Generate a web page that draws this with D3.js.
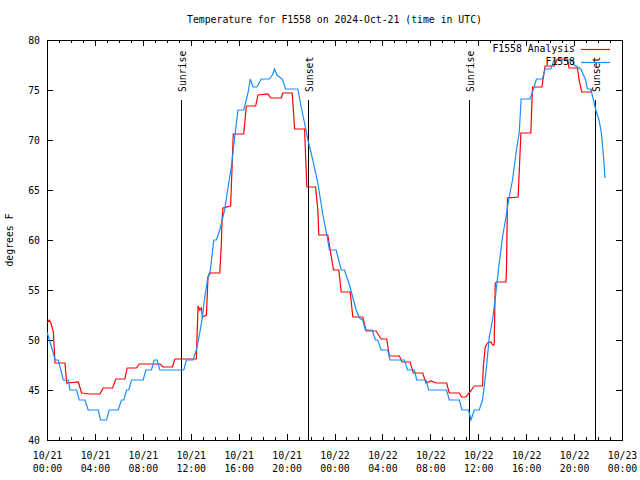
<!DOCTYPE html>
<html>
<head>
<meta charset="utf-8">
<script src="https://cdn.jsdelivr.net/npm/d3@7"></script>
<style>
  html, body { margin: 0; padding: 0; background: #fff; overflow: hidden; }
  svg { display: block; }
  text { font-family: "DejaVu Sans Mono", "Liberation Mono", monospace; font-size: 9.8px; fill: #000; }
</style>
</head>
<body>
<svg id="chart" width="640" height="480"></svg>
<script>
// ---------------- data ----------------
const chartTitle = "Temperature for F1558 on 2024-Oct-21 (time in UTC)";
const yLabel = "degrees F";
const seriesNames = ["F1558 Analysis", "F1558"];
const yTicks = [40, 45, 50, 55, 60, 65, 70, 75, 80];

// hours after 2024-10-21 00:00 UTC
const analysisHours = [0,0.19,0.33,0.53,0.67,1.5,1.64,2.61,2.89,3.58,4.42,4.69,5.47,5.75,6.5,6.69,7.47,7.69,9.42,9.69,10.47,10.67,12.47,12.53,12.61,12.75,12.89,12.97,13.31,13.44,13.64,14.42,14.47,14.56,14.61,14.69,15.33,15.55,16.42,16.64,17.42,17.61,18.44,18.67,19.56,19.69,20.47,20.67,21.5,21.69,22.42,22.61,22.69,23.44,23.64,23.92,24.36,24.56,25.31,25.53,26.36,26.64,27.47,27.89,28.36,28.58,29.42,29.64,30.31,30.58,31.36,31.64,32.06,32.47,33.36,33.58,34.42,34.61,34.97,35.25,35.67,36.36,36.42,36.58,36.78,37.06,37.19,37.33,37.42,37.53,38.31,38.36,38.44,39.33,39.56,40.39,40.53,41.31,41.58,42.33,42.61,43.44,43.58,44.28,44.42,44.64,45.39,45.53];
const analysisTemps = [51.7,52,51.7,50.8,47.7,47.7,45.7,45.8,44.7,44.6,44.6,45.2,45.2,46.1,46.1,47.2,47.2,47.6,47.6,47.3,47.3,48.1,48.1,50.5,53.4,53,53.2,52.3,52.5,56.3,56.7,56.7,57.7,59.8,62,63.2,63.4,70.6,70.6,73.4,73.4,74.5,74.6,74.2,74.2,74.7,74.7,71.1,71.1,65.3,65.3,63,60.5,60.5,59,57,57,54.8,54.8,52.3,52.3,50.9,50.9,50.1,50.1,48.4,48.4,47.8,47.8,46.7,46.7,45.7,45.9,45.7,45.7,44.7,44.7,44.3,44.3,44.7,45.4,45.4,47.3,49.3,49.7,49.8,49.5,49.5,55.7,55.8,55.8,57.2,64.2,64.3,70.7,70.7,75.3,75.3,77.4,77.4,78.1,78.1,77.2,77.2,76,74.8,74.8,75.1];

const obsHours = [0,0.25,0.53,0.67,0.94,1.36,1.78,1.92,2.47,2.69,3.17,3.44,4.28,4.47,4.97,5.19,5.94,6.22,6.42,6.64,6.83,7.06,8.03,8.25,8.72,8.94,9.19,9.42,11.42,11.64,12.19,12.47,12.75,12.97,13.17,13.44,13.64,13.92,14.14,14.42,14.83,15.08,15.39,15.67,15.94,16.42,16.78,16.97,17.19,17.52,17.89,18.58,18.81,19.0,19.19,19.64,19.92,20.94,21.22,21.5,21.78,22.19,22.61,23.03,23.31,23.58,24.14,24.56,24.83,25.25,25.81,26.08,26.36,26.58,27.14,27.42,27.61,27.89,28.44,28.64,29.83,30.11,30.67,30.86,31.64,31.86,33.36,33.58,34.42,34.64,35.19,35.39,35.67,36.08,36.36,36.69,36.92,37.19,37.47,37.75,38.03,38.31,38.58,38.86,39.19,39.42,39.58,40.31,40.53,40.86,41.36,41.58,42.06,42.33,43.86,44.0,44.56,44.97,45.11,45.39,45.58,45.81,46.08,46.28,46.5,46.58];
const obsTemps = [50.8,49.8,48.7,48,48,46,46,45,45,44,44,43,43,42,42,43,43,44,44,45,45,46,46,47,47,48,48,47,47,48,48,49,50.7,52.3,54.3,56.3,57,60,60,61,63,65,67.3,70.3,73,73,74.7,76.1,75.3,75.3,76.1,76.1,76.5,77.1,76.5,76.1,75.1,75.1,73.3,71.7,70,68,65.7,62.5,60.8,59,59,57,57,55.5,53,52.2,52,51,51,50,50,49,49,48,48,47,47,46,46,45,45,44,44,43,43,42,43,43,44,47.3,50.3,52,54.7,57.7,60.3,62.3,64.3,66,69,70.7,74.1,74.1,74.8,76.1,76.1,77.1,77.1,78,78,77.5,77.1,76,75.1,75.1,74.2,73,72,70.7,67.7,66.2];

const eventNames = ["Sunrise", "Sunset", "Sunrise", "Sunset"];
const eventHours = [11.22, 21.78, 35.25, 45.71];

// ---------------- drawing ----------------
const startTime = Date.UTC(2024, 9, 21, 0, 0);
const endTime = Date.UTC(2024, 9, 23, 0, 0);
const toDate = h => new Date(startTime + h * 3600000);

const L = 47, R = 622, T = 40, B = 440;
const svg = d3.select("#chart");

const x = d3.scaleUtc().domain([new Date(startTime), new Date(endTime)]).range([L, R]);
const y = d3.scaleLinear().domain([40, 80]).range([B, T]);

const fmtDate = d3.utcFormat("%m/%d");
const fmtTime = d3.utcFormat("%H:%M");

// title
svg.append("text").attr("x", (L + R) / 2).attr("y", 23)
  .attr("text-anchor", "middle").text(chartTitle);

// y label
svg.append("text").attr("transform", `translate(13,${(T + B) / 2}) rotate(-90)`)
  .attr("text-anchor", "middle").text(yLabel);

function styleAxis(g) {
  g.select(".domain").remove();
  g.selectAll("line").attr("stroke", "#000").attr("shape-rendering", "crispEdges");
  g.attr("font-family", null).attr("font-size", null);
}

// minor ticks (hourly)
svg.append("g").attr("transform", `translate(0,${B})`)
  .call(d3.axisBottom(x).ticks(d3.utcHour.every(1)).tickSize(-3).tickFormat(""))
  .call(styleAxis);
svg.append("g").attr("transform", `translate(0,${T})`)
  .call(d3.axisTop(x).ticks(d3.utcHour.every(1)).tickSize(-3).tickFormat(""))
  .call(styleAxis);

// major x ticks
const xMajor = d3.axisBottom(x).ticks(d3.utcHour.every(4)).tickSize(-6).tickPadding(10)
  .tickFormat(d => fmtDate(d) + "|" + fmtTime(d));
const gx = svg.append("g").attr("transform", `translate(0,${B})`).call(xMajor).call(styleAxis);
gx.selectAll("text").each(function(d) {
  const t = d3.select(this);
  const parts = t.text().split("|");
  t.text(null).attr("y", 0).attr("dy", null);
  t.append("tspan").attr("x", 0).attr("y", 19).text(parts[0]);
  t.append("tspan").attr("x", 0).attr("y", 32).text(parts[1]);
});
svg.append("g").attr("transform", `translate(0,${T})`)
  .call(d3.axisTop(x).ticks(d3.utcHour.every(4)).tickSize(-6).tickFormat(""))
  .call(styleAxis);

// y ticks
const gy = svg.append("g").attr("transform", `translate(${L},0)`)
  .call(d3.axisLeft(y).tickValues(yTicks).tickSize(-6).tickPadding(7).tickFormat(d3.format("d")))
  .call(styleAxis);
gy.selectAll("text").attr("dy", "0.35em");
svg.append("g").attr("transform", `translate(${R},0)`)
  .call(d3.axisRight(y).tickValues(yTicks).tickSize(-6).tickFormat(""))
  .call(styleAxis);

// frame
svg.append("rect").attr("x", L).attr("y", T).attr("width", R - L).attr("height", B - T)
  .attr("fill", "none").attr("stroke", "#000").attr("shape-rendering", "crispEdges");

// sunrise / sunset markers
eventHours.forEach((h, i) => {
  const ex = Math.round(x(toDate(h))) + 0.5;
  svg.append("line").attr("x1", ex).attr("x2", ex).attr("y1", y(74)).attr("y2", B)
    .attr("stroke", "#000").attr("stroke-width", 1);
  svg.append("text").attr("transform", `translate(${ex + 4},${y(74.8)}) rotate(-90)`)
    .attr("text-anchor", "start").text(eventNames[i]);
});

// lines
const line = d3.line().x(d => x(toDate(d[0]))).y(d => y(d[1]));
const anaData = analysisHours.map((h, i) => [h, analysisTemps[i]]);
const obsData = obsHours.map((h, i) => [h, obsTemps[i]]);
const colors = ["#ff0000", "#1a8cff"];

svg.append("path").datum(anaData).attr("d", line)
  .attr("fill", "none").attr("stroke", colors[0]).attr("stroke-width", 1.2);
svg.append("path").datum(obsData).attr("d", line)
  .attr("fill", "none").attr("stroke", colors[1]).attr("stroke-width", 1.2);

// legend
seriesNames.forEach((name, i) => {
  const ly = 49 + i * 13;
  svg.append("text").attr("x", 575).attr("y", ly).attr("dy", "0.35em")
    .attr("text-anchor", "end").text(name);
  svg.append("line").attr("x1", 581).attr("x2", 610).attr("y1", ly + 0.5).attr("y2", ly + 0.5)
    .attr("stroke", colors[i]).attr("stroke-width", 1.2);
});
</script>
</body>
</html>
